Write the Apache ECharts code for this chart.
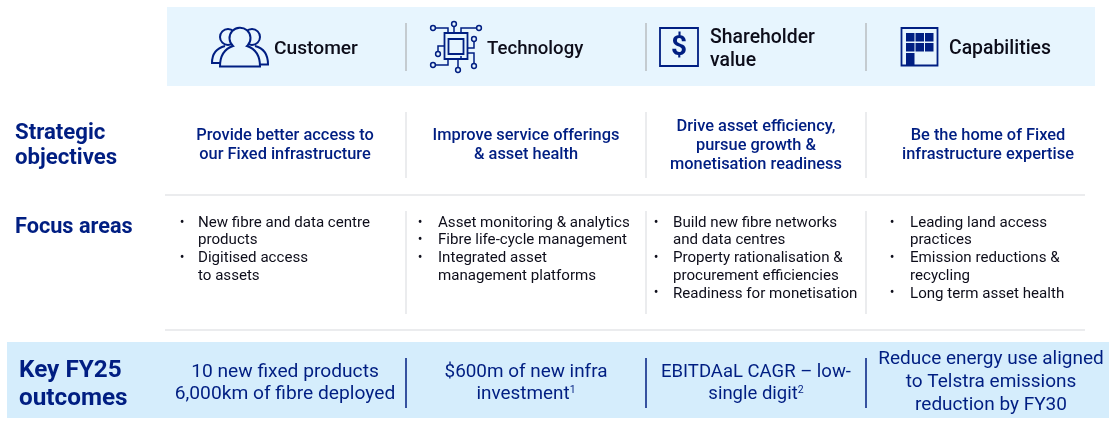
<!DOCTYPE html>
<html><head><meta charset="utf-8">
<style>html,body{margin:0;padding:0;background:#fff}#c{width:1109px;height:426px}</style>
<script src="https://cdn.jsdelivr.net/npm/echarts@6/dist/echarts.min.js"></script>
</head><body><div id="c"></div>
<script>
const headers = [['Customer'], ['Technology'], ['Shareholder', 'value'], ['Capabilities']];
const rowTitles = [['Strategic', 'objectives'], ['Focus areas'], ['Key FY25', 'outcomes']];
const objectives = [
  ['Provide better access to', 'our Fixed infrastructure'],
  ['Improve service offerings', '& asset health'],
  ['Drive asset efficiency,', 'pursue growth &', 'monetisation readiness'],
  ['Be the home of Fixed', 'infrastructure expertise']
];
const focus = [
  [['New fibre and data centre', 'products'], ['Digitised access', 'to assets']],
  [['Asset monitoring & analytics'], ['Fibre life-cycle management'], ['Integrated asset', 'management platforms']],
  [['Build new fibre networks', 'and data centres'], ['Property rationalisation &', 'procurement efficiencies'], ['Readiness for monetisation']],
  [['Leading land access', 'practices'], ['Emission reductions &', 'recycling'], ['Long term asset health']]
];
const outcomes = [
  ['10 new fixed products', '6,000km of fibre deployed'],
  ['$600m of new infra', 'investment{s|1}'],
  ['EBITDAaL CAGR \u2013 low-', 'single digit{s|2}'],
  ['Reduce energy use aligned', 'to Telstra emissions', 'reduction by FY30']
];

const NAVY = '#001e82', INK = '#0d0d1a', FONT = 'Roboto, sans-serif';
const g = [];
const rect = (x, y, w, h, fill) => g.push({type: 'rect', shape: {x, y, width: w, height: h}, style: {fill}, silent: true});
const vline = (x, y1, y2, stroke, w) => g.push({type: 'line', shape: {x1: x, y1, x2: x, y2}, style: {stroke, lineWidth: w}, silent: true});
const hline = (x1, x2, y, stroke, w) => g.push({type: 'line', shape: {x1, y1: y, x2, y2: y}, style: {stroke, lineWidth: w}, silent: true});
const text = (t, x, y, size, weight, fill, align) => g.push({type: 'text', x, y: y + 2, silent: true, style: {
  text: t, fill, align: align || 'left', verticalAlign: 'middle', font: weight + ' ' + size + 'px ' + FONT,
  rich: {s: {fontSize: 10.5, fontFamily: 'Roboto', fill, verticalAlign: 'top', padding: [0, 0, 8, 0]}}
}});
const lines = (arr, x, cy, lh, size, weight, fill, align) => arr.forEach((t, i) => text(t, x, cy + (i - (arr.length - 1) / 2) * lh, size, weight, fill, align));
let iconId = 0;
const icon = (d, fill, stroke, w) => {
  const name = 'ic' + (iconId++);
  echarts.graphic.registerShape(name, echarts.graphic.extendPath(d, {}));
  g.push({type: name, silent: true, style: {fill: fill || 'none', stroke: stroke || null, lineWidth: w || 0}});
};
const ring = (cx, cy, r, w, fill) => g.push({type: 'circle', silent: true, shape: {cx, cy, r}, style: {fill: fill || 'none', stroke: NAVY, lineWidth: w}});

// Bands
rect(167, 7, 928, 79, '#e7f5fe');
rect(7, 342, 1102, 76, '#d5edfc');

// Header
[406, 646, 866].forEach(x => vline(x, 23, 71, '#b8bcc0', 1.5));
lines(headers[0], 274, 47.5, 23, 19.2, 500, INK);
lines(headers[1], 487, 47.5, 23, 18.6, 500, INK);
lines(headers[2], 710, 47.5, 23, 19.4, 500, INK);
lines(headers[3], 949, 47.5, 23, 19.4, 500, INK);

// Customer icon
ring(228, 37, 8, 2);
ring(252, 37, 8, 2);
icon('M220 63 H212 C212 54 217 48 225 46', 'none', NAVY, 2);
icon('M260 64.5 H268 C268 54 263 48 255 46', 'none', NAVY, 2);
icon('M220 66.5 C220 53 227 48 233 46 A10.5 10.5 0 1 1 247 46 C253 48 260 53 260 66.5 Z', '#e7f5fe', NAVY, 2);

// Technology icon
g.push({type: 'rect', silent: true, shape: {x: 444.5, y: 33, width: 23, height: 26}, style: {fill: 'none', stroke: NAVY, lineWidth: 1.8}});
g.push({type: 'rect', silent: true, shape: {x: 448.5, y: 39, width: 15, height: 15}, style: {fill: 'none', stroke: NAVY, lineWidth: 1.8}});
icon('M436 28 H448 V33 M454 26.5 V33 M461 33 V28 H476 M474 42 V48 H467 M438 51 V46 H444 M436 65 H448 V59 M458 59 V67 M461 59 V56 M467 53 H474 V63', 'none', NAVY, 1.5);
[[433, 28], [454, 24], [479, 28], [474, 39], [438, 54], [433, 65], [458, 70], [474, 66]].forEach(p => ring(p[0], p[1], 2.4, 1.5));

// Shareholder icon
g.push({type: 'rect', silent: true, shape: {x: 660, y: 28, width: 38, height: 38}, style: {fill: 'none', stroke: NAVY, lineWidth: 1.8}});
g.push({type: 'text', x: 679, y: 48, silent: true, style: {text: '$', fill: NAVY, align: 'center', verticalAlign: 'middle', font: '700 28px Roboto'}});

// Capabilities icon
g.push({type: 'rect', silent: true, shape: {x: 901.5, y: 28, width: 36, height: 37.5}, style: {fill: 'none', stroke: NAVY, lineWidth: 1.8}});
[906, 915.5, 925].forEach(x => [33, 43].forEach(y => rect(x, y, 8.5, 8.5, NAVY)));
rect(906, 53, 8.5, 12, NAVY);

// Row titles
lines(rowTitles[0], 15, 143.5, 25, 22.2, 700, NAVY);
lines(rowTitles[1], 15, 225.5, 26, 21.7, 700, NAVY);
lines(rowTitles[2], 19, 383, 28.5, 24.3, 700, NAVY);

// Rules
hline(165, 1085, 195, '#e4e6e8', 1.5);
hline(165, 1085, 330, '#e4e6e8', 1.5);
[406, 646, 866].forEach(x => {
  vline(x, 112, 178, '#e4e6e8', 1.5);
  vline(x, 211, 314, '#e4e6e8', 1.5);
  vline(x, 358, 408, NAVY, 1.5);
});

// Objectives
const centres = [285, 526, 756, 988];
objectives.forEach((o, i) => lines(o, centres[i], 143.5, 19, 16.4, 500, NAVY, 'center'));

// Focus areas
const bulletX = [182, 420, 656, 892], textX = [198, 438, 673, 910];
focus.forEach((col, i) => {
  let row = 0;
  col.forEach(item => {
    text('\u2022', bulletX[i], 221 + row * 17.7, 14, 400, INK, 'center');
    item.forEach(t => { text(t, textX[i], 221 + row * 17.7, 15.1, 400, INK); row++; });
  });
});

// Outcomes
const outX = [285, 526, 756, 991], outSize = [19.2, 18.9, 18.5, 19];
outcomes.forEach((o, i) => lines(o, outX[i], i === 3 ? 380.5 : 381.5, i === 3 ? 23 : 22, outSize[i], 400, NAVY, 'center'));

const chart = echarts.init(document.getElementById('c'), null, {renderer: 'canvas'});
chart.setOption({animation: false, backgroundColor: '#fff', graphic: {elements: g}});
</script></body></html>
